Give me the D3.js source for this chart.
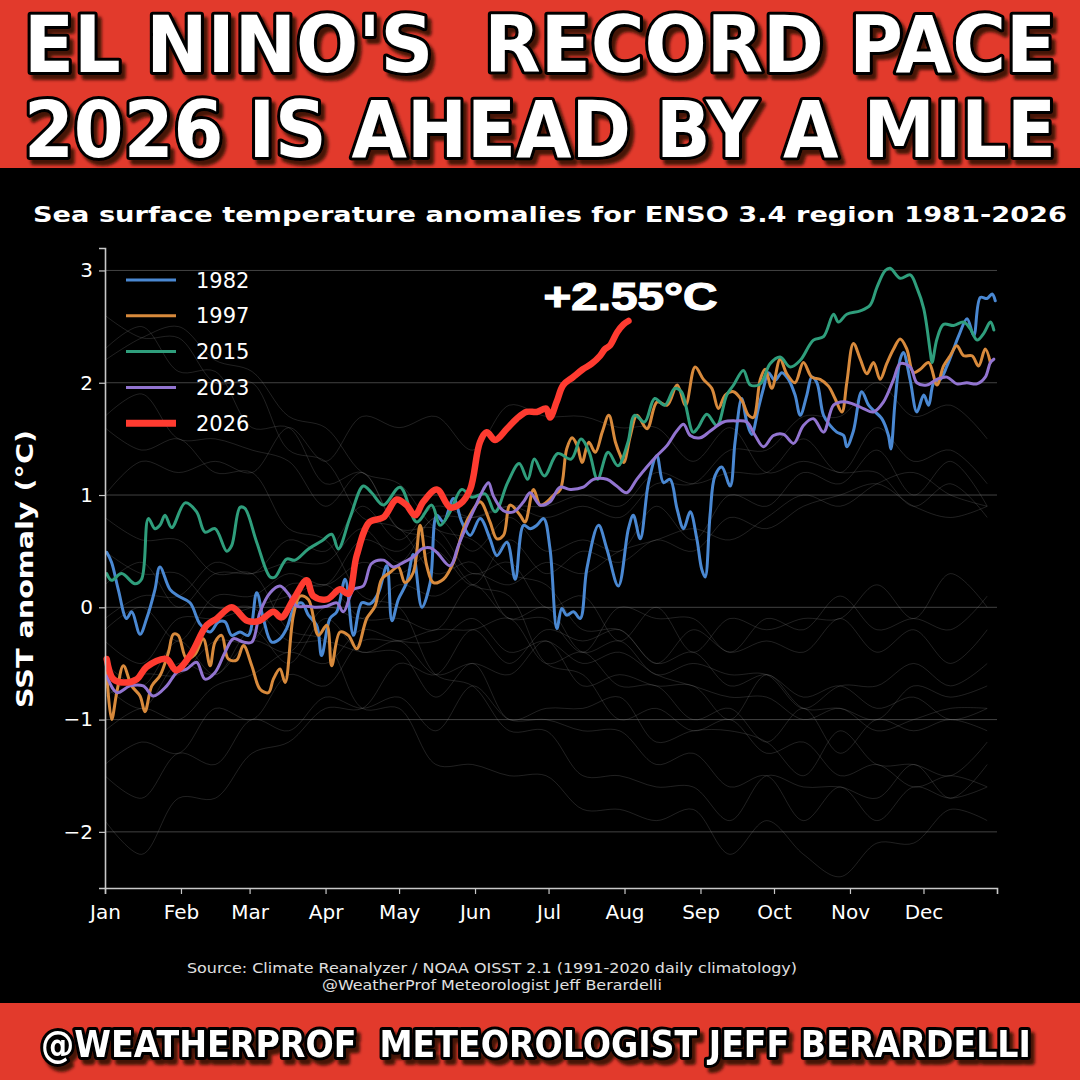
<!DOCTYPE html>
<html>
  <head>
    <meta charset="utf-8">
    <script src="https://d3js.org/d3.v7.min.js"></script>
    <style>
      body { margin: 0; background: #000; }
    </style>
  </head>
  <title>ENSO 3.4 record pace</title>
  <body>
    <div id="chart"></div>
    <script type="text/javascript">
    // month ticks (day of year of the 1st)
    var monthDays = [0, 31, 59, 90, 120, 151, 181, 212, 243, 273, 304, 334];
    var monthNames = ["Jan", "Feb", "Mar", "Apr", "May", "Jun", "Jul", "Aug", "Sep", "Oct", "Nov", "Dec"];
    var yTicks = [-2, -1, 0, 1, 2, 3];

    // highlighted years, [day of year, anomaly]
    var y1982 = [[0.7,0.49],[2.7,0.40],[5.4,0.16],[8.8,-0.10],[10.9,-0.04],[14.3,-0.24],[17,-0.10],[20.4,0.16],[22.4,0.36],[26.5,0.16],[29.9,0.10],[34.7,0.04],[38.8,-0.15],[42.9,-0.22],[46.3,-0.13],[49,-0.13],[51.7,-0.25],[55.1,-0.22],[58.5,-0.25],[61.9,0.13],[64.6,-0.10],[68,-0.31],[71.4,-0.28],[74.1,-0.19],[77.5,0.01],[80.3,0.04],[83,-0.07],[86.4,-0.16],[88.4,-0.43],[91.8,-0.10],[94.6,-0.04],[98,0.25],[101.4,-0.25],[104.8,0.04],[108.2,0.03],[111.6,0.13],[115,0.37],[117.1,-0.12],[119.7,0.07],[123.1,0.22],[125.8,0.47],[129.3,0.0],[132.7,0.22],[135.4,0.82],[138.1,0.76],[142.2,0.97],[145.6,0.76],[149,0.64],[153.1,0.79],[157.1,0.61],[159.9,0.46],[164,0.58],[167.4,0.25],[170.8,0.73],[173.5,0.70],[176.2,0.73],[179,0.79],[181.6,0.52],[184.4,-0.19],[186.4,-0.01],[188.4,-0.07],[191.2,-0.04],[193.9,-0.10],[196.6,0.34],[201.4,0.73],[204.8,0.52],[209.5,0.19],[213.6,0.70],[215.6,0.82],[218.4,0.61],[221.8,1.11],[225.2,1.35],[227.9,1.11],[230.6,1.14],[233.4,0.88],[236.1,0.70],[238.8,0.85],[241.5,0.61],[243.5,0.34],[244.9,0.27],[246.9,0.82],[248.9,1.17],[251.7,1.25],[255.1,1.08],[257.1,1.47],[259.8,1.86],[261.9,1.65],[263.9,1.54],[266.6,1.77],[268.7,1.95],[270.7,2.09],[273.4,2.02],[276.2,2.09],[278.9,2.03],[281.6,1.89],[283.7,1.71],[286.4,1.89],[288.4,2.05],[290.5,2.00],[293.2,1.71],[295.9,1.62],[298.6,1.56],[301.4,1.53],[302.7,1.43],[305.4,1.57],[308.8,1.92],[311.6,1.80],[314.3,1.74],[317,1.68],[319.7,1.53],[320.7,1.41],[322.4,1.83],[324.5,2.21],[325.8,2.27],[328.6,2.02],[331.3,1.74],[334.1,1.89],[336.1,1.80],[338.2,2.00],[340.9,2.03],[343.6,2.15],[346.3,2.30],[348.4,2.42],[351.8,2.57],[354.5,2.42],[357.2,2.76],[359.9,2.75],[362,2.79],[363.3,2.73]];

    var y1997 = [[0.7,-0.58],[2.7,-1.0],[4.8,-0.76],[7.5,-0.52],[10.9,-0.70],[14.3,-0.79],[16.3,-0.93],[19.1,-0.70],[22.4,-0.61],[25.9,-0.40],[27.9,-0.24],[29.9,-0.25],[33.3,-0.46],[36.7,-0.42],[40.1,-0.28],[42.9,-0.52],[44.9,-0.31],[47.6,-0.25],[50.3,-0.46],[53.7,-0.47],[56.5,-0.34],[59.9,-0.52],[63.3,-0.73],[66.7,-0.76],[68.7,-0.64],[71.4,-0.55],[73.5,-0.67],[76.9,-0.07],[79.6,0.10],[83,0.07],[87.1,-0.25],[90.5,-0.16],[92.5,-0.52],[95.9,-0.22],[99.3,-0.25],[102.7,-0.37],[106.8,-0.10],[110.2,0.01],[112.9,0.25],[116.3,0.31],[119.7,0.36],[122.4,0.22],[125.8,0.31],[128.6,0.73],[131.3,0.37],[134,0.22],[138.1,0.25],[142.2,0.40],[146.3,0.70],[149.7,0.85],[153.1,0.94],[157.1,0.76],[159.9,0.61],[162.6,0.64],[165.3,0.91],[169.4,0.82],[171.4,0.76],[174.9,1.05],[177.6,0.91],[180.4,0.94],[183.1,1.00],[185.8,1.05],[188.4,1.41],[190.6,1.51],[192.7,1.44],[194.7,1.29],[197.4,1.47],[200.1,1.38],[202.9,1.56],[205.6,1.71],[208.3,1.47],[210.3,1.35],[211.7,1.29],[214.4,1.53],[217.1,1.71],[221.2,1.59],[225.3,1.83],[229.4,1.80],[233.5,1.98],[236.9,1.80],[240.8,2.14],[244.2,2.03],[247.6,1.95],[250.3,1.77],[253.1,1.89],[256.5,1.92],[259.9,1.84],[262.6,1.71],[264.6,1.69],[267.4,2.03],[269.4,2.12],[272.1,1.95],[275.5,2.21],[278.2,2.08],[281.6,2.00],[285,2.18],[288.4,2.05],[291.8,2.03],[295.2,1.97],[297.9,1.86],[300.7,1.74],[302.7,2.00],[305.4,2.35],[308.2,2.21],[310.9,2.08],[313.6,2.18],[316.3,2.03],[319,2.17],[321.8,2.30],[324.5,2.39],[327.2,2.30],[329.9,2.09],[332.7,2.12],[336.1,2.18],[339.5,1.98],[342.2,2.15],[344.9,2.24],[347.6,2.33],[350.4,2.24],[353.8,2.24],[356.5,2.15],[359.2,2.30],[361.3,2.18]];

    var y2015 = [[0.7,0.30],[2.7,0.24],[6.8,0.30],[12.2,0.21],[14.9,0.25],[17.7,0.79],[20.4,0.70],[22.4,0.73],[24.5,0.82],[27.2,0.71],[32.7,0.93],[37.4,0.85],[40.8,0.67],[44.9,0.70],[49.7,0.50],[51.7,0.55],[55.1,0.89],[57.1,0.88],[61.9,0.58],[67.4,0.27],[69.4,0.27],[74.1,0.43],[77.5,0.42],[83,0.52],[88.4,0.59],[92.5,0.65],[95.2,0.52],[100,0.80],[105.4,1.08],[108.8,1.02],[113.6,0.91],[120.4,1.07],[127.2,0.76],[133.3,0.91],[136.7,0.73],[140.8,0.85],[145.6,1.05],[149.7,0.98],[155.1,1.01],[159.2,0.85],[164.3,1.11],[169,1.28],[172.5,1.14],[175.2,1.32],[179.3,1.17],[184.7,1.37],[190.2,1.32],[194.2,1.50],[197.6,1.38],[201,1.14],[205.3,1.38],[209.3,1.26],[213.4,1.47],[216.1,1.71],[220.2,1.65],[224.3,1.86],[228.4,1.80],[232.5,1.95],[235.2,1.92],[240,1.56],[242,1.60],[245.6,1.72],[249.7,1.62],[253.7,1.89],[256.5,1.98],[260.5,2.11],[263.3,1.98],[267.4,1.99],[271.4,2.17],[275.5,2.23],[279.6,2.14],[283.7,2.20],[289.1,2.38],[293.2,2.41],[297.3,2.61],[299.3,2.54],[302.7,2.61],[308.2,2.64],[312.2,2.69],[315,2.85],[318.4,3.00],[320.4,3.02],[324.5,2.93],[328.6,2.96],[331.4,2.84],[334.1,2.66],[336.8,2.27],[337.5,2.18],[339.5,2.39],[342.2,2.52],[346.3,2.51],[350.4,2.54],[353.1,2.48],[355.9,2.38],[358.6,2.44],[361.3,2.54],[362.7,2.47]];

    var y2023 = [[0.7,-0.61],[4.8,-0.76],[10.2,-0.70],[15.6,-0.70],[19.7,-0.79],[25.2,-0.70],[29.3,-0.58],[33.3,-0.55],[37.4,-0.49],[40.8,-0.64],[44.9,-0.58],[49,-0.40],[52.4,-0.28],[56.5,-0.31],[59.9,-0.31],[63.3,-0.04],[67.4,0.13],[71.4,0.19],[74.8,0.12],[78.2,0.01],[82.3,0.01],[86.4,0.0],[90.5,0.01],[94.6,0.04],[97.3,-0.04],[101.4,0.16],[105.4,0.19],[108.8,0.39],[113.6,0.42],[117.7,0.36],[121.8,0.40],[125.9,0.45],[129.3,0.52],[132.7,0.53],[135.4,0.49],[140.8,0.37],[144.2,0.55],[147.6,0.73],[151,0.89],[154.4,1.05],[156.5,1.11],[158.5,0.99],[162.6,0.86],[166.7,0.85],[170.8,0.94],[173.5,1.02],[177.6,0.91],[181.6,0.94],[185.7,1.07],[189.8,1.05],[195.2,1.07],[199.3,1.14],[204.8,1.14],[208.8,1.08],[212.9,1.02],[217,1.14],[221.1,1.25],[225.2,1.35],[229.3,1.44],[233.3,1.57],[236.1,1.63],[238.8,1.53],[242.9,1.51],[247,1.57],[252.4,1.65],[257.8,1.66],[261.9,1.65],[265.3,1.53],[268.7,1.43],[272.8,1.53],[276.9,1.54],[281,1.46],[285,1.62],[289.1,1.68],[293.2,1.56],[297.3,1.80],[301.4,1.83],[305.4,1.81],[309.5,1.77],[313.6,1.74],[317.7,1.83],[321.8,2.03],[324.5,2.17],[328.6,2.14],[331.3,2.00],[335.4,1.98],[339.5,2.03],[343.6,2.05],[347.6,1.99],[351.7,2.00],[355.8,1.99],[359.2,2.05],[361.3,2.18],[362.7,2.21]];

    var y2026 = [[0.7,-0.46],[3.4,-0.64],[7.5,-0.67],[13,-0.64],[17,-0.53],[25,-0.46],[29,-0.56],[34.7,-0.43],[41.5,-0.16],[45.6,-0.10],[51.7,0.0],[58,-0.12],[63,-0.12],[68.7,-0.04],[72,-0.09],[76.9,0.07],[82.3,0.24],[85,0.10],[90.5,0.07],[95.9,0.16],[99.3,0.12],[102.7,0.46],[108,0.76],[113.6,0.80],[119,0.96],[123,0.91],[126.5,0.82],[129.9,0.94],[135.4,1.05],[140.8,0.89],[144.9,0.92],[149,1.05],[153,1.47],[155.8,1.56],[159.2,1.49],[164,1.59],[168,1.68],[172,1.74],[176.2,1.74],[180,1.77],[181.6,1.69],[184.3,1.83],[187,1.98],[191,2.05],[195,2.12],[198.6,2.17],[202,2.24],[204,2.30],[206,2.33],[209,2.45],[211.6,2.52],[213.6,2.55]];

    // all other years 1981-2025, faint background (every 15 days)
    var greyDays = [0,15,30,45,60,75,90,105,120,135,150,165,180,195,210,225,240,255,270,285,300,315,330,345,360];
    var grey1983 = [2.2,2.4,2.5,2.2,2.1,1.7,1.6,1.2,1.1,0.7,0.6,0.3,0.2,-0.2,-0.2,-0.5,-0.4,-0.7,-0.6,-0.8,-0.7,-0.9,-0.8,-1.0,-0.9];
    var grey1998 = [2.3,2.5,2.1,2.1,1.6,1.6,1.1,1.2,0.7,0.6,0.2,0.1,-0.5,-0.6,-1.0,-0.9,-1.1,-1.0,-1.3,-1.2,-1.5,-1.4,-1.6,-1.5,-1.6];
    var grey2016 = [2.6,2.4,2.4,2.0,2.0,1.4,1.3,0.8,0.7,0.3,0.4,-0.1,0.0,-0.4,-0.3,-0.6,-0.5,-0.6,-0.6,-0.9,-0.7,-0.7,-0.5,-0.7,-0.5];
    var grey1992 = [1.7,1.9,1.5,1.5,1.4,1.3,0.9,1.2,0.7,0.7,0.3,0.4,0.0,0.1,-0.3,0.0,-0.4,-0.1,-0.2,-0.1,-0.1,0.2,-0.1,0.3,0.0];
    var grey1988 = [0.8,0.6,0.6,0.3,0.3,-0.2,-0.3,-0.9,-0.9,-1.4,-1.4,-1.5,-1.5,-1.8,-1.8,-1.9,-1.8,-2.2,-1.9,-2.2,-2.4,-2.1,-2.1,-1.8,-1.9];
    var grey1989 = [-1.9,-2.2,-1.7,-1.7,-1.3,-1.2,-0.9,-0.9,-0.5,-0.6,-0.2,-0.5,-0.2,-0.3,-0.2,-0.5,-0.2,-0.4,-0.3,-0.4,-0.1,-0.4,-0.2,-0.5,-0.2];
    var grey1999 = [-1.5,-1.7,-1.3,-1.4,-1.0,-1.1,-0.8,-0.9,-0.8,-1.1,-0.7,-1.0,-1.0,-1.1,-1.1,-1.4,-1.3,-1.6,-1.5,-1.9,-1.6,-1.9,-1.6,-1.7,-1.6];
    var grey2010 = [1.6,1.4,1.5,1.2,1.2,0.7,0.6,0.1,0.0,-0.6,-0.7,-1.1,-1.1,-1.5,-1.5,-1.6,-1.6,-1.9,-1.5,-1.6,-1.6,-1.7,-1.4,-1.7,-1.4];
    var grey1987 = [1.0,1.3,1.2,1.3,1.2,1.6,1.3,1.7,1.6,1.7,1.4,1.8,1.7,1.7,1.6,1.6,1.3,1.6,1.2,1.3,1.2,1.2,0.9,1.1,0.8];
    var grey2009 = [-0.8,-0.6,-0.6,-0.3,-0.3,0.2,0.2,0.6,0.5,0.8,0.8,0.9,0.8,0.9,0.8,1.1,1.1,1.4,1.4,1.7,1.7,2.0,1.7,1.8,1.5];
    var grey2002 = [-0.1,0.1,0.1,0.4,0.3,0.6,0.5,0.9,0.6,0.9,0.8,0.9,0.9,1.0,0.9,1.2,1.1,1.2,1.2,1.5,1.2,1.6,1.3,1.4,1.1];
    var grey1991 = [0.2,0.4,0.0,0.3,0.3,0.4,0.4,0.7,0.4,0.8,0.5,0.8,0.5,0.6,0.5,0.9,0.6,1.0,0.9,1.2,1.1,1.4,1.0,1.3,0.9];
    var grey2013 = [-0.3,-0.5,-0.1,-0.1,0.0,0.1,0.2,-0.1,-0.1,-0.2,0.2,-0.1,-0.1,-0.4,0.0,-0.1,-0.1,-0.4,-0.1,-0.2,0.1,-0.2,-0.1,-0.2,0.1];
    var grey2008 = [-1.4,-1.2,-1.3,-0.9,-1.0,-0.6,-0.7,-0.3,-0.3,-0.2,-0.2,-0.1,-0.5,-0.4,-0.7,-0.7,-1.0,-0.9,-1.2,-0.9,-1.3,-1.0,-1.1,-1.0,-1.1];
    var grey1985 = [-0.5,-0.7,-0.3,-0.6,-0.2,-0.5,-0.1,-0.4,-0.3,-0.6,-0.5,-0.6,-0.3,-0.7,-0.6,-0.7,-0.7,-1.0,-0.6,-0.9,-0.9,-1.0,-0.7,-0.8,-0.7];
    var grey2007 = [0.5,0.3,0.3,0.0,0.0,-0.3,-0.3,-0.4,-0.4,-0.8,-0.5,-1.0,-0.9,-0.9,-0.8,-1.2,-1.1,-1.1,-1.2,-1.5,-1.1,-1.4,-1.4,-1.5,-1.2];
    var grey1994 = [-0.2,0.0,-0.3,0.1,0.1,0.3,0.2,0.4,0.3,0.5,0.2,0.6,0.3,0.5,0.4,0.6,0.5,0.8,0.7,0.9,1.0,1.1,0.9,0.8,0.9];
    var grey2006 = [-0.7,-0.9,-0.5,-0.6,-0.3,-0.4,0.0,-0.1,0.2,0.1,0.3,0.2,0.4,0.3,0.5,0.6,0.7,0.6,0.8,1.0,0.9,1.1,1.2,1.0,0.9];
    var grey2021 = [-1.1,-0.9,-1.0,-0.7,-0.6,-0.4,-0.5,-0.2,-0.3,-0.3,-0.1,-0.4,-0.3,-0.5,-0.4,-0.6,-0.7,-0.8,-0.8,-1.0,-0.9,-1.1,-1.0,-0.9,-0.9];

    var greyYears = [grey1983, grey1998, grey2016, grey1992, grey1988, grey1989, grey1999, grey2010,
                     grey1987, grey2009, grey2002, grey1991, grey2013, grey2008, grey1985, grey2007,
                     grey1994, grey2006, grey2021];

    var seriesNames = ["1982", "1997", "2015", "2023", "2026"];
    var seriesData = [y1982, y1997, y2015, y2023, y2026];
    var seriesColors = ["#4a88d2", "#d88a3c", "#2f9e7c", "#9274d0", "#ff3b30"];
    var seriesWidths = [3, 3, 3, 3, 6.5];

    function draw() {
      "use strict";
      var W = 1080, H = 1080;
      var red = "#e23a2c";

      var svg = d3.select("#chart")
        .append("svg")
        .attr("width", W)
        .attr("height", H)
        .style("display", "block");

      // drop shadow for the banner texts
      var defs = svg.append("defs");
      defs.append("filter")
        .attr("id", "shadow")
        .attr("x", "-5%").attr("y", "-20%")
        .attr("width", "110%").attr("height", "150%")
        .append("feDropShadow")
        .attr("dx", 4).attr("dy", 5)
        .attr("stdDeviation", 1.5)
        .attr("flood-color", "#2a0805")
        .attr("flood-opacity", 0.85);

      svg.append("rect").attr("width", W).attr("height", H).attr("fill", "#000");

      // red banners top and bottom
      svg.append("rect").attr("x", 0).attr("y", 0).attr("width", W).attr("height", 168).attr("fill", red);
      svg.append("rect").attr("x", 0).attr("y", 1003).attr("width", W).attr("height", 77).attr("fill", red);

      // outlined headline text
      function bigText(txt, x, y, size, len, family) {
        return svg.append("text")
          .attr("x", x).attr("y", y)
          .attr("text-anchor", "middle")
          .attr("font-family", family)
          .attr("font-weight", 900)
          .attr("font-size", size)
          .attr("textLength", len)
          .attr("lengthAdjust", "spacingAndGlyphs")
          .attr("fill", "#fff")
          .attr("stroke", "#000")
          .attr("stroke-width", 6)
          .attr("stroke-linejoin", "round")
          .attr("paint-order", "stroke")
          .attr("filter", "url(#shadow)")
          .style("white-space", "pre")
          .text(txt);
      }
      var headFont = "'Liberation Sans Narrow', 'DejaVu Sans Condensed', 'Roboto Condensed', 'Liberation Sans', sans-serif";
      bigText("EL NINO'S  RECORD PACE", 540, 72, 78, 1032, headFont);
      bigText("2026 IS AHEAD BY A MILE", 540, 157, 78, 1032, headFont);

      // footer banner: size the font so it fills the banner width on its own
      var foot = bigText("@WEATHERPROF  METEOROLOGIST JEFF BERARDELLI", 536, 1057, 44, null, headFont)
        .attr("textLength", null).attr("lengthAdjust", null);
      var natural = foot.node().getComputedTextLength();
      foot.attr("font-size", Math.min(58, 44 * 990 / natural));

      // subtitle
      svg.append("text")
        .attr("x", 550).attr("y", 222)
        .attr("text-anchor", "middle")
        .attr("font-family", "'DejaVu Sans', sans-serif")
        .attr("font-weight", "bold")
        .attr("font-size", 22)
        .attr("textLength", 1034)
        .attr("lengthAdjust", "spacingAndGlyphs")
        .attr("fill", "#fff")
        .text("Sea surface temperature anomalies for ENSO 3.4 region 1981-2026");

      /*
      scales and axes
      */
      var x = d3.scaleLinear().domain([0, 364]).range([105, 997]);
      var y = d3.scaleLinear().domain([-2.5, 3.2]).range([888, 248]);

      var plot = svg.append("g");

      // horizontal grid
      plot.selectAll(".grid")
        .data(yTicks)
        .enter().append("line")
        .attr("x1", x(0)).attr("x2", x(364))
        .attr("y1", function(d) { return y(d); })
        .attr("y2", function(d) { return y(d); })
        .attr("stroke", "#4a4a4a")
        .attr("stroke-width", 0.9);

      var line = d3.line()
        .x(function(d) { return x(d[0]); })
        .y(function(d) { return y(d[1]); })
        .curve(d3.curveCatmullRom.alpha(0.5));

      // background years
      plot.selectAll(".greyline")
        .data(greyYears)
        .enter().append("path")
        .attr("d", function(v) {
          return line(v.map(function(val, i) { return [greyDays[i], val]; }));
        })
        .attr("fill", "none")
        .attr("stroke", "#8a8a8a")
        .attr("stroke-opacity", 0.24)
        .attr("stroke-width", 1);

      // highlighted years
      seriesData.forEach(function(s, i) {
        plot.append("path")
          .attr("d", line(s))
          .attr("fill", "none")
          .attr("stroke", seriesColors[i])
          .attr("stroke-width", seriesWidths[i])
          .attr("stroke-linejoin", "round")
          .attr("stroke-linecap", "round");
      });

      var axisColor = "#c8c8c8";
      var yAxis = svg.append("g")
        .attr("transform", "translate(" + x(0) + ",0)")
        .call(d3.axisLeft(y).tickValues(yTicks).tickSize(6).tickPadding(6)
          .tickFormat(function(d) { return d < 0 ? "\u2212" + Math.abs(d) : d; }));
      var xAxis = svg.append("g")
        .attr("transform", "translate(0," + y(-2.5) + ")")
        .call(d3.axisBottom(x).tickValues(monthDays).tickSize(6).tickPadding(6)
          .tickFormat(function(d, i) { return monthNames[i]; }));
      [yAxis, xAxis].forEach(function(a) {
        a.select(".domain").attr("stroke", axisColor).attr("stroke-width", 1.6);
        a.selectAll(".tick line").attr("stroke", axisColor).attr("stroke-width", 1.2);
        a.selectAll(".tick text")
          .attr("fill", "#fff")
          .attr("font-family", "'DejaVu Sans', sans-serif")
          .attr("font-size", 20);
      });
      xAxis.selectAll(".tick text").attr("dy", "0.95em");

      // y axis title
      svg.append("text")
        .attr("transform", "translate(33,569) rotate(-90)")
        .attr("text-anchor", "middle")
        .attr("font-family", "'DejaVu Sans', sans-serif")
        .attr("font-weight", "bold")
        .attr("font-size", 23)
        .attr("textLength", 278)
        .attr("lengthAdjust", "spacingAndGlyphs")
        .attr("fill", "#fff")
        .text("SST anomaly (\u00b0C)");

      // legend
      var legend = svg.append("g");
      seriesNames.forEach(function(n, i) {
        var ly = 280 + i * 35.8;
        legend.append("line")
          .attr("x1", 126).attr("x2", 176)
          .attr("y1", ly).attr("y2", ly)
          .attr("stroke", seriesColors[i])
          .attr("stroke-width", i == 4 ? 7 : 3);
        legend.append("text")
          .attr("x", 196).attr("y", ly)
          .attr("dy", "0.36em")
          .attr("font-family", "'DejaVu Sans', sans-serif")
          .attr("font-size", 21)
          .attr("fill", "#fff")
          .text(n);
      });

      // latest value label
      var last = y2026[y2026.length - 1];
      svg.append("text")
        .attr("x", x(last[0]) + 2).attr("y", y(last[1]) - 11)
        .attr("text-anchor", "middle")
        .attr("font-family", "'Liberation Sans', Arial, sans-serif")
        .attr("font-weight", 900)
        .attr("font-size", 38)
        .attr("textLength", 174)
        .attr("lengthAdjust", "spacingAndGlyphs")
        .attr("fill", "#fff")
        .attr("stroke", "#fff")
        .attr("stroke-width", 1.2)
        .text("+" + last[1].toFixed(2) + "\u00b0C");

      // source
      svg.append("text")
        .attr("x", 492).attr("y", 973)
        .attr("text-anchor", "middle")
        .attr("font-family", "'DejaVu Sans', sans-serif")
        .attr("font-size", 13.5)
        .attr("textLength", 610)
        .attr("lengthAdjust", "spacingAndGlyphs")
        .attr("fill", "#e0e0e0")
        .text("Source: Climate Reanalyzer / NOAA OISST 2.1 (1991-2020 daily climatology)");
      svg.append("text")
        .attr("x", 492).attr("y", 990)
        .attr("text-anchor", "middle")
        .attr("font-family", "'DejaVu Sans', sans-serif")
        .attr("font-size", 13.5)
        .attr("textLength", 340)
        .attr("lengthAdjust", "spacingAndGlyphs")
        .attr("fill", "#e0e0e0")
        .text("@WeatherProf Meteorologist Jeff Berardelli");
    };

    draw();
    </script>
  </body>
</html>
